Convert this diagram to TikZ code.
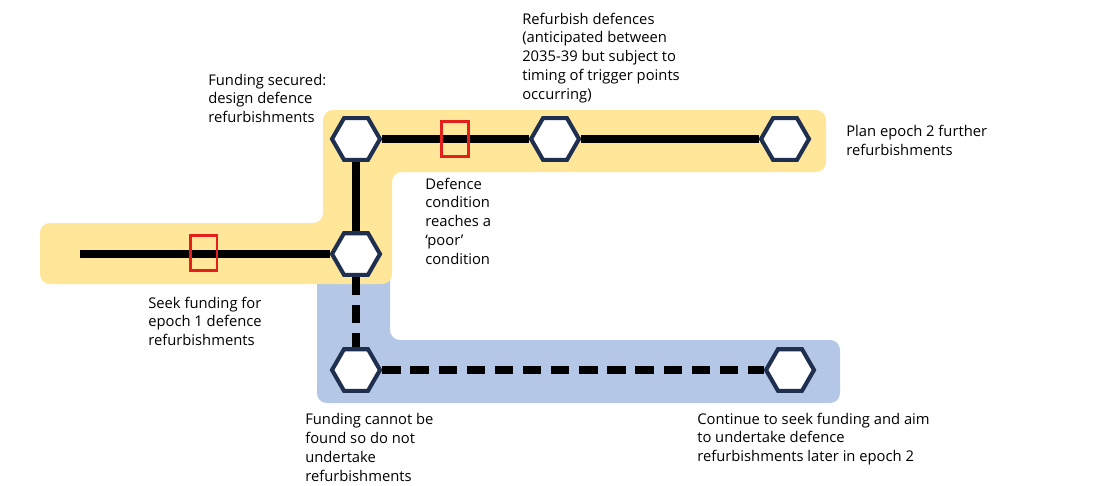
\documentclass[tikz,border=0pt]{standalone}
\usepackage{fontspec}
\setmainfont{Open Sans}
\usetikzlibrary{shapes.geometric}
\definecolor{sand}{HTML}{FFE699}
\definecolor{sky}{HTML}{B4C7E7}
\definecolor{navy}{HTML}{1F2F4F}
\definecolor{flag}{HTML}{E3201B}
\tikzset{
  station/.style={regular polygon,regular polygon sides=6,draw=navy,line width=2.9pt,
    fill=white,minimum size=1.2cm,inner sep=0pt},
  trigger/.style={draw=flag,line width=2pt,minimum width=0.67cm,minimum height=0.86cm,inner sep=0pt},
  note/.style={anchor=base west,align=left,inner sep=0pt,font=\fontsize{10.5pt}{13.4pt}\selectfont}
}
\begin{document}
\begin{tikzpicture}[x=0.025cm,y=-0.025cm]
      \useasboundingbox (0,0) rectangle (1110,486);
      \fill[sky,rounded corners=7pt] (317,270) -- (390,270) -- (390,340) -- (840,340)
        -- (840,403) -- (317,403) -- cycle;
      \fill[sand,rounded corners=7pt] (40,223) -- (323,223) -- (323,110) -- (826,110)
        -- (826,172) -- (392,172) -- (392,284) -- (40,284) -- cycle;
      \draw
        (356,139) node[station] (0){}
        (555,139) node[station] (1){}
        (785,139) node[station] (2){}
        (356,254) node[station] (3){}
        (356,370) node[station] (4){}
        (790,370) node[station] (5){};
      \coordinate (s) at (80,254);
      \begin{scope}[line width=5pt]
        \draw (s) to (3);
        \draw (0) to (1);
        \draw (1) to (2);
        \draw (0) to (3);
        \draw[dash pattern=on 13pt off 7pt] (3) to (4);
        \draw[dash pattern=on 13pt off 7pt] (4) to (5);
      \end{scope}
      \node[trigger] (r0) at (203.5,253) {};
      \node[trigger] (r1) at (455,139) {};
      \node[note] (t0) at (208,122.7) {Funding secured:\\design defence\\refurbishments};
      \node[note] (t1) at (522,99.4) {Refurbish defences\\(anticipated between\\2035-39 but subject to\\timing of trigger points\\occurring)};
      \node[note] (t2) at (846,155.8) {Plan epoch 2 further\\refurbishments};
      \node[note] (t3) at (425,264.4) {Defence\\condition\\reaches a\\‘poor’\\condition};
      \node[note] (t4) at (148,345.7) {Seek funding for\\epoch 1 defence\\refurbishments};
      \node[note] (t5) at (305,481.5) {Funding cannot be\\found so do not\\undertake\\refurbishments};
      \node[note] (t6) at (697,461.7) {Continue to seek funding and aim\\to undertake defence\\refurbishments later in epoch 2};
    \end{tikzpicture}
\end{document}
